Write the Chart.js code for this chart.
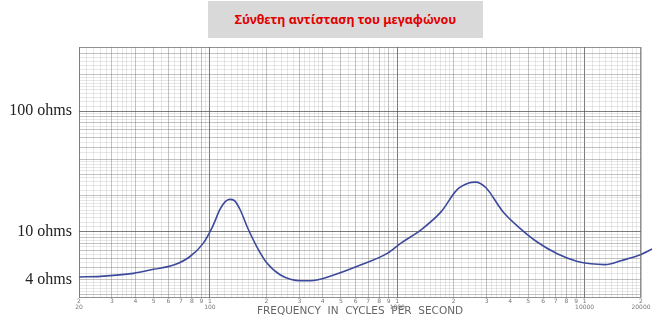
<!DOCTYPE html>
<html>
<head>
<meta charset="utf-8">
<script src="https://cdn.jsdelivr.net/npm/chart.js@4/dist/chart.umd.min.js"></script>
<style>
  body { margin: 0; background: #fff; }
  #wrap { position: relative; width: 661px; height: 322px; }
  #title {
    position: absolute; left: 208px; top: 1px; width: 275px; height: 37px;
    background: #d9d9d9; color: #e00000; font: bold 12.5px "Noto Sans", sans-serif;
    display: flex; align-items: center; justify-content: center;
  }
</style>
</head>
<body>
<div id="wrap">
  <canvas id="myChart" width="661" height="322"></canvas>
  <div id="title">Σύνθετη αντίσταση του μεγαφώνου</div>
</div>
<script>
// impedance curve (Hz, ohms)
const freq = [20, 26, 39, 50, 64, 78, 92, 103, 113.5, 120.7, 127.3, 134.9, 145.2, 158, 178,
  202, 238, 304, 344, 458, 636, 884, 1041, 1338, 1721, 2076, 2406, 2616, 2966, 3656, 4508,
  5558, 7138, 9172, 10804, 12824, 15814, 19491, 22900];
const ohms = [4.2, 4.25, 4.5, 4.86, 5.27, 6.18, 7.98, 10.9, 15.4, 17.7, 18.5, 18.1, 15.1,
  10.96, 7.48, 5.45, 4.36, 3.91, 3.91, 4.36, 5.27, 6.59, 7.98, 10.33, 14.7, 22.1, 25.3,
  25.7, 23.2, 14.7, 10.69, 8.23, 6.55, 5.65, 5.4, 5.32, 5.76, 6.35, 7.16];

// x axis ticks
const xMajor = [20, 30, 40, 50, 60, 70, 80, 90, 100, 200, 300, 400, 500, 600, 700, 800, 900,
  1000, 2000, 3000, 4000, 5000, 6000, 7000, 8000, 9000, 10000, 20000];
const xText = [['2', '20'], '3', '4', '5', '6', '7', '8', '9', ['1', '100'], '2', '3', '4', '5',
  '6', '7', '8', '9', ['1', '1000'], '2', '3', '4', '5', '6', '7', '8', '9', ['1', '10000'], ['2', '20000']];

// y axis ticks
const yMajor = [3, 4, 5, 6, 7, 8, 9, 10, 20, 30, 40, 50, 60, 70, 80, 90, 100, 200, 300];
const yLabelAt = [4, 10, 100];
const yText = ['4 ohms', '10 ohms', '100 ohms'];

// graph paper: add finer lines between the major ones
function paper(major) {
  let out = [];
  for (let i = 0; i < major.length; i++) {
    out.push({ value: major[i], major: true });
    if (i < major.length - 1) {
      let a = major[i], b = major[i + 1];
      let n = (b / a) < 1.3 ? 2 : 5;
      if (b / a > 1.9) n = 10;
      for (let k = 1; k < n; k++) out.push({ value: a + (b - a) * k / n, major: false });
    }
  }
  return out;
}
const xGrid = paper(xMajor);
const yGrid = paper(yMajor);

function isDecade(v) {
  let l = Math.log10(v);
  return Math.abs(l - Math.round(l)) < 1e-9;
}

function lineColor(ctx) {
  let t = ctx.tick;
  if (!t) return 'rgba(0,0,0,0)';
  if (isDecade(t.value)) return 'rgba(80,80,80,0.75)';
  if (t.major) return 'rgba(120,120,120,0.45)';
  return 'rgba(160,160,160,0.25)';
}

const frame = {
  id: 'frame',
  afterDraw(chart) {
    const { ctx, chartArea: a } = chart;
    ctx.save();
    ctx.strokeStyle = 'rgba(100,100,100,0.7)';
    ctx.lineWidth = 1;
    ctx.strokeRect(a.left + 0.5, a.top + 0.5, a.right - a.left - 1, a.bottom - a.top - 1);
    ctx.restore();
  }
};

new Chart(document.getElementById('myChart'), {
  type: 'line',
  data: {
    datasets: [{
      data: freq.map((f, i) => ({ x: f, y: ohms[i] })),
      borderColor: '#3d4a9c',
      borderWidth: 1.6,
      pointRadius: 0,
      cubicInterpolationMode: 'monotone',
      clip: false
    }]
  },
  options: {
    responsive: false,
    animation: false,
    layout: { padding: { top: 47, right: 20, left: 0, bottom: 0 } },
    plugins: { legend: { display: false }, tooltip: { enabled: false } },
    scales: {
      x: {
        type: 'logarithmic',
        min: 20, max: 20000,
        afterBuildTicks: s => { s.ticks = xGrid.map(t => ({ value: t.value, major: t.major })); },
        afterFit: s => { s.height = 24; },
        grid: { color: lineColor, drawTicks: false },
        border: { display: false },
        ticks: {
          autoSkip: false, maxRotation: 0, minRotation: 0, padding: 0,
          color: '#777',
          font: { family: 'DejaVu Sans', size: 6, lineHeight: 1 },
          callback: function (v) {
            let i = xMajor.indexOf(v);
            return i >= 0 ? xText[i] : '';
          }
        },
        title: {
          display: true,
          text: 'FREQUENCY  IN  CYCLES  PER  SECOND',
          color: '#666',
          font: { family: 'DejaVu Sans', size: 10.5 },
          padding: { top: 0, bottom: 4 }
        }
      },
      y: {
        type: 'logarithmic',
        min: 2.81, max: 340,
        afterBuildTicks: s => { s.ticks = yGrid.map(t => ({ value: t.value, major: t.major })); },
        afterFit: s => { s.width = 79; },
        grid: { color: lineColor, drawTicks: false },
        border: { display: false },
        ticks: {
          autoSkip: false, padding: 7,
          color: '#222',
          font: { family: 'Liberation Serif', size: 16 },
          callback: function (v) {
            let i = yLabelAt.indexOf(v);
            return i >= 0 ? yText[i] : '';
          }
        }
      }
    }
  },
  plugins: [frame]
});
</script>
</body>
</html>
